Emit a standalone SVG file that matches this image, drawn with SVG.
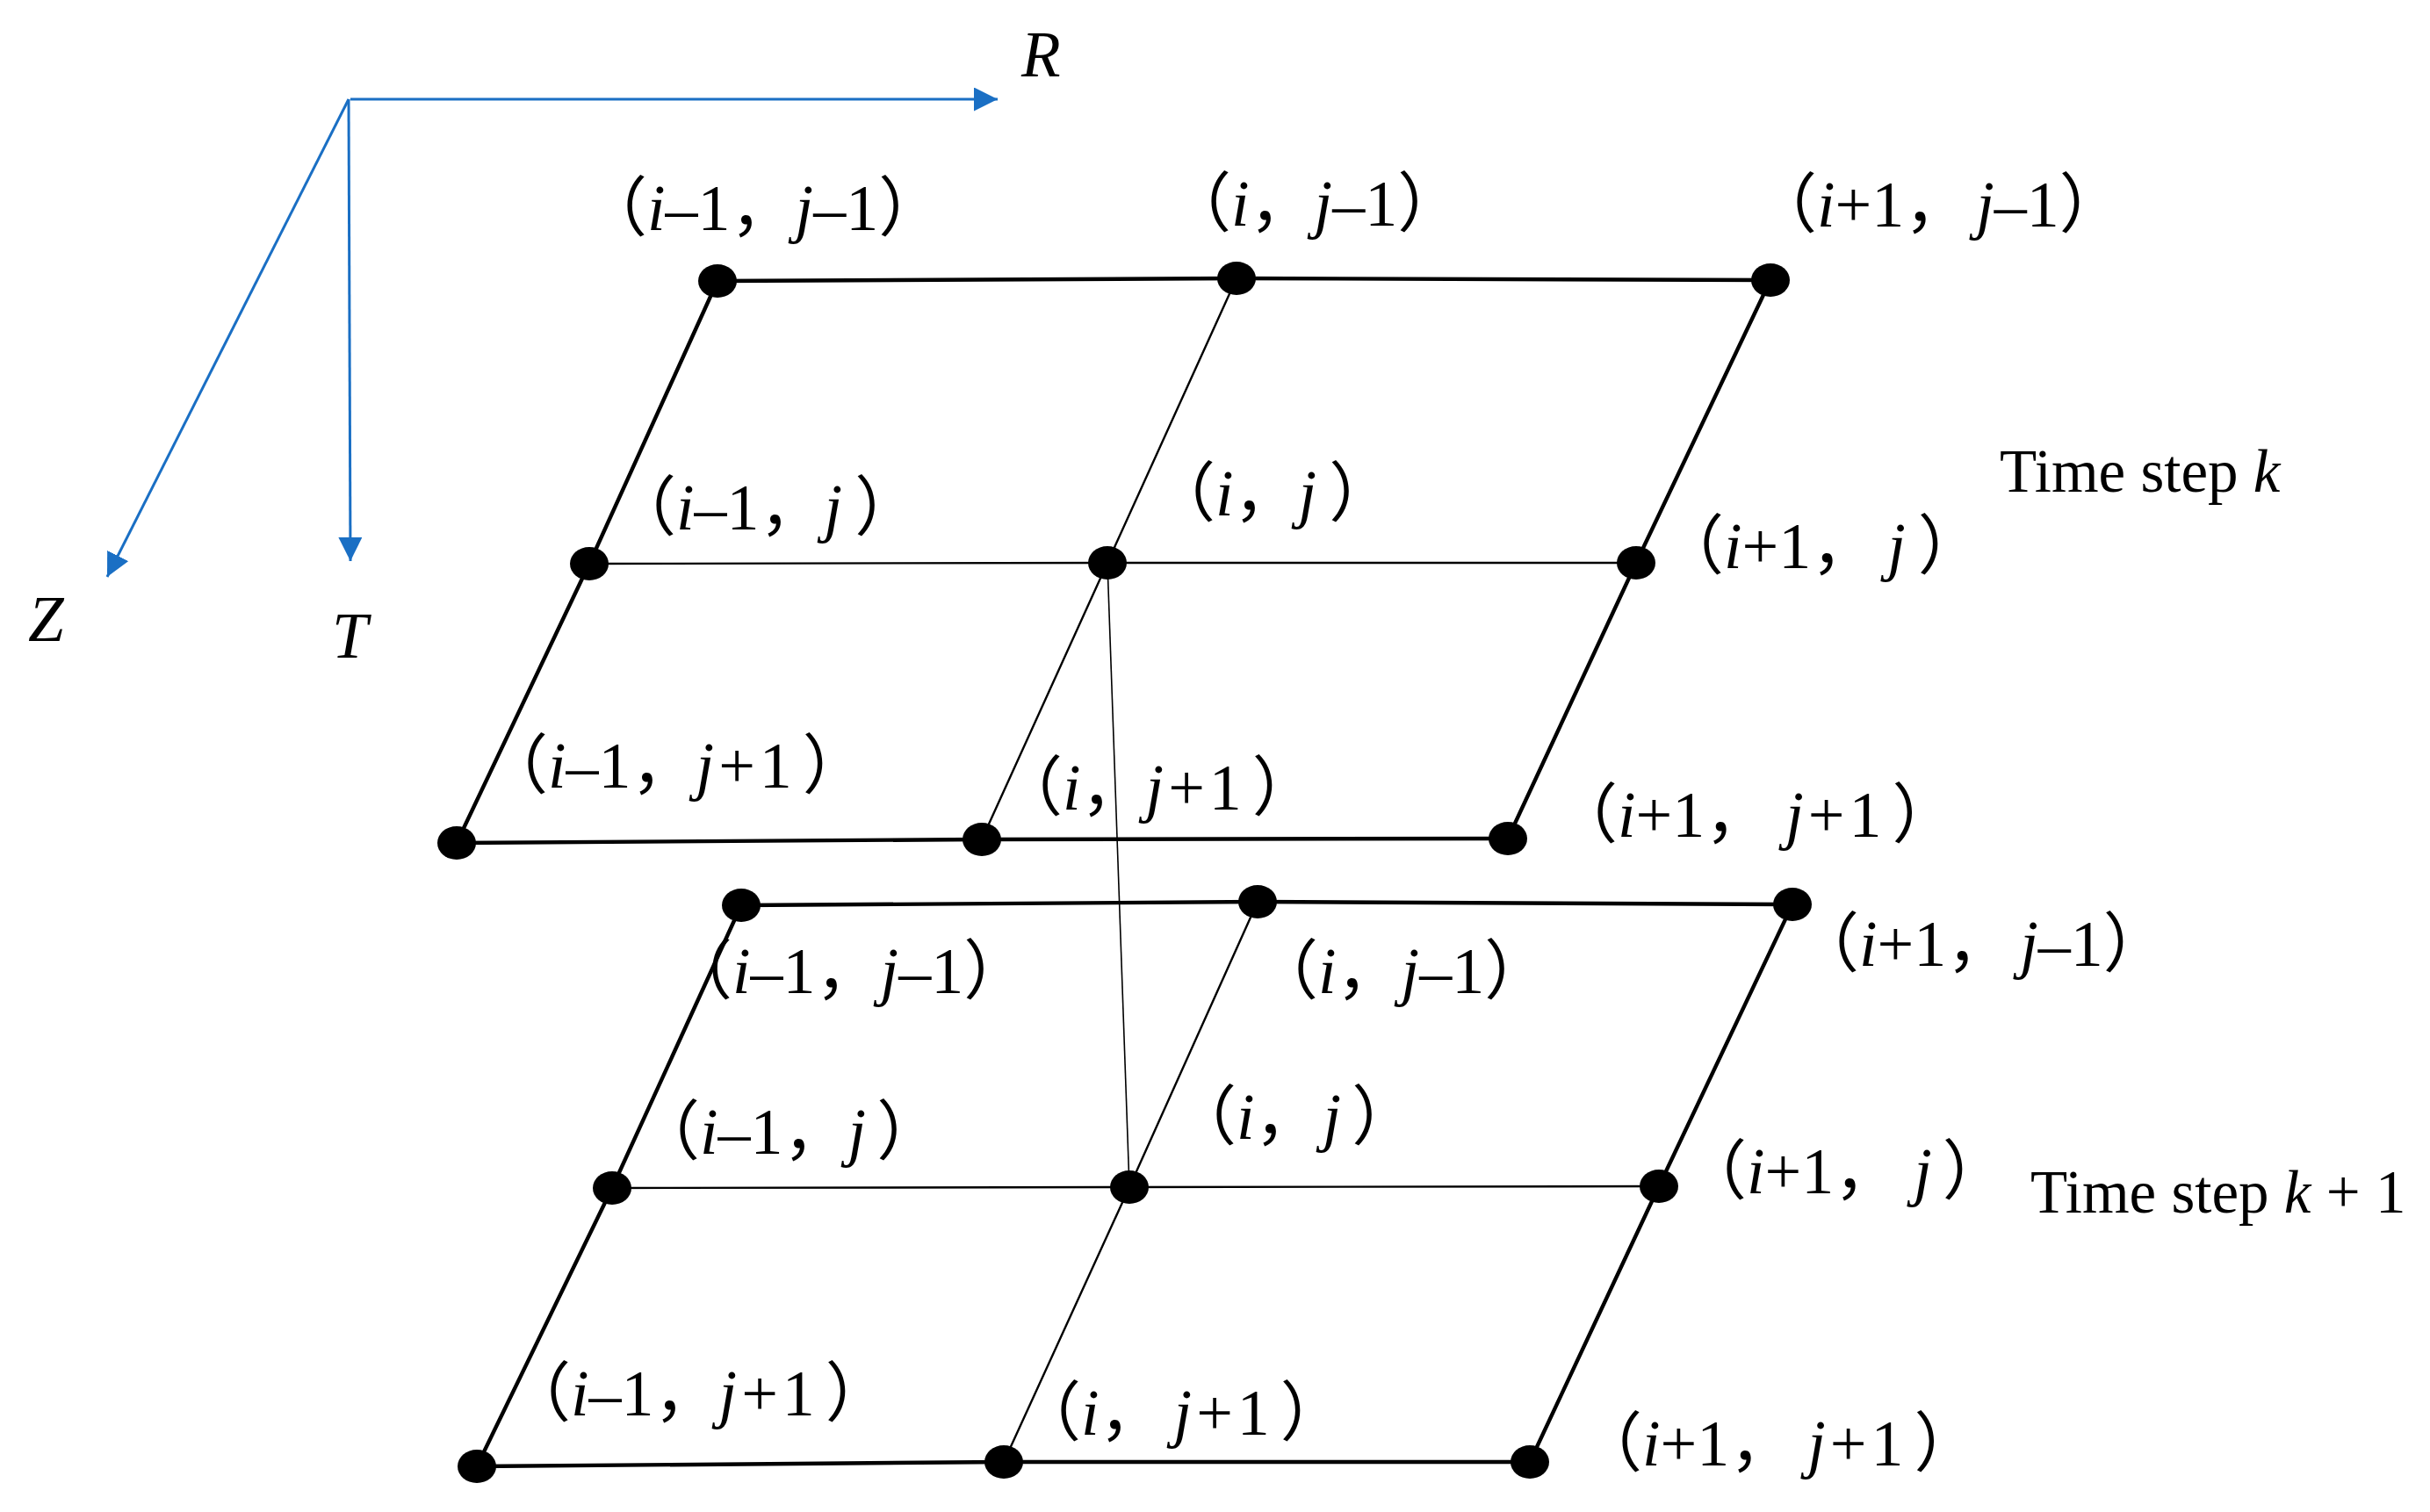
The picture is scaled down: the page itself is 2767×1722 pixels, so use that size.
<svg xmlns="http://www.w3.org/2000/svg" width="2767" height="1722" viewBox="0 0 2767 1722">
<style>
.ax{stroke:#1a6fc4;stroke-width:3;fill:none}
.thick{stroke:#000;stroke-width:4.4;fill:none}
.thin{stroke:#000;stroke-width:2.4;fill:none}
.vthin{stroke:#000;stroke-width:1.6;fill:none}
.node{fill:#000}
.lbl{font-family:"Liberation Serif","Noto Sans CJK SC",serif;font-size:74px;fill:#000}
.big{font-family:"Liberation Serif",serif;font-size:69px;fill:#000}
.axl{font-family:"Liberation Serif",serif;font-size:73px;font-style:italic;fill:#000}
.it{font-style:italic}
</style>
<defs>
<marker id="arr" viewBox="0 0 10 10" refX="10" refY="5" markerUnits="userSpaceOnUse" markerWidth="27" markerHeight="27" orient="auto">
<path d="M0,0 L10,5 L0,10 z" fill="#1a6fc4"/>
</marker>
</defs>
<rect width="2767" height="1722" fill="#fff"/>
<g id="axes">
<line class="ax" x1="399" y1="113" x2="1136" y2="113" marker-end="url(#arr)"/>
<line class="ax" x1="397" y1="113" x2="399" y2="639" marker-end="url(#arr)"/>
<line class="ax" x1="397" y1="113" x2="122" y2="657" marker-end="url(#arr)"/>
<text class="axl" x="1163" y="87">R</text>
<text class="axl" x="32" y="730">Z</text>
<text class="axl" x="378" y="749">T</text>
</g>
<g id="connectors">
<polyline class="thick" points="817,320 1408,317 2016,319"/>
<polyline class="thin" points="671,642 1261,641 1863,641"/>
<polyline class="thick" points="520,960 1118,956 1717,955"/>
<polyline class="thick" points="817,320 671,642 520,960"/>
<polyline class="thin" points="1408,317 1261,641 1118,956"/>
<polyline class="thick" points="2016,319 1863,641 1717,955"/>
<polyline class="thick" points="844,1031 1432,1027 2041,1030"/>
<polyline class="thin" points="697,1353 1286,1352 1889,1351"/>
<polyline class="thick" points="543,1670 1143,1665 1742,1665"/>
<polyline class="thick" points="844,1031 697,1353 543,1670"/>
<polyline class="thin" points="1432,1027 1286,1352 1143,1665"/>
<polyline class="thick" points="2041,1030 1889,1351 1742,1665"/>
<line class="vthin" x1="1261" y1="641" x2="1286" y2="1352"/>
</g>
<g id="k-im1-jm1"><ellipse class="node" cx="817" cy="320" rx="22" ry="19"/><text class="lbl" x="663" y="262">（<tspan class="it">i</tspan>–1，<tspan class="it">j</tspan>–1）</text></g>
<g id="k-i-jm1"><ellipse class="node" cx="1408" cy="317" rx="22" ry="19"/><text class="lbl" x="1328" y="257">（<tspan class="it">i</tspan>，<tspan class="it">j</tspan>–1）</text></g>
<g id="k-ip1-jm1"><ellipse class="node" cx="2016" cy="319" rx="22" ry="19"/><text class="lbl" x="1995" y="258">（<tspan class="it">i</tspan>+1，<tspan class="it" dx="8">j</tspan>–1）</text></g>
<g id="k-im1-j"><ellipse class="node" cx="671" cy="642" rx="22" ry="19"/><text class="lbl" x="696" y="603">（<tspan class="it">i</tspan>–1，<tspan class="it">j</tspan><tspan dx="14">）</tspan></text></g>
<g id="k-i-j"><ellipse class="node" cx="1261" cy="641" rx="22" ry="19"/><text class="lbl" x="1310" y="587">（<tspan class="it">i</tspan>，<tspan class="it">j</tspan><tspan dx="14">）</tspan></text></g>
<g id="k-ip1-j"><ellipse class="node" cx="1863" cy="641" rx="22" ry="19"/><text class="lbl" x="1889" y="647">（<tspan class="it">i</tspan>+1，<tspan class="it" dx="13">j</tspan><tspan dx="14">）</tspan></text></g>
<g id="k-im1-jp1"><ellipse class="node" cx="520" cy="960" rx="22" ry="19"/><text class="lbl" x="550" y="897">（<tspan class="it">i</tspan>–1，<tspan class="it">j</tspan><tspan dx="5">+</tspan><tspan dx="5">1</tspan><tspan dx="12">）</tspan></text></g>
<g id="k-i-jp1"><ellipse class="node" cx="1118" cy="956" rx="22" ry="19"/><text class="lbl" x="1136" y="922">（<tspan class="it">i</tspan>，<tspan class="it">j</tspan><tspan dx="5">+</tspan><tspan dx="5">1</tspan><tspan dx="12">）</tspan></text></g>
<g id="k-ip1-jp1"><ellipse class="node" cx="1717" cy="955" rx="22" ry="19"/><text class="lbl" x="1768" y="953">（<tspan class="it">i</tspan>+1，<tspan class="it" dx="18">j</tspan><tspan dx="5">+</tspan><tspan dx="5">1</tspan><tspan dx="12">）</tspan></text></g>
<g id="k1-im1-jm1"><ellipse class="node" cx="844" cy="1031" rx="22" ry="19"/><text class="lbl" x="760" y="1131">（<tspan class="it">i</tspan>–1，<tspan class="it">j</tspan>–1）</text></g>
<g id="k1-i-jm1"><ellipse class="node" cx="1432" cy="1027" rx="22" ry="19"/><text class="lbl" x="1427" y="1131">（<tspan class="it">i</tspan>，<tspan class="it">j</tspan>–1）</text></g>
<g id="k1-ip1-jm1"><ellipse class="node" cx="2041" cy="1030" rx="22" ry="19"/><text class="lbl" x="2043" y="1100">（<tspan class="it">i</tspan>+1，<tspan class="it" dx="10">j</tspan>–1）</text></g>
<g id="k1-im1-j"><ellipse class="node" cx="697" cy="1353" rx="22" ry="19"/><text class="lbl" x="723" y="1314">（<tspan class="it">i</tspan>–1，<tspan class="it">j</tspan><tspan dx="12">）</tspan></text></g>
<g id="k1-i-j"><ellipse class="node" cx="1286" cy="1352" rx="22" ry="19"/><text class="lbl" x="1334" y="1297">（<tspan class="it">i</tspan>，<tspan class="it" dx="4">j</tspan><tspan dx="12">）</tspan></text></g>
<g id="k1-ip1-j"><ellipse class="node" cx="1889" cy="1351" rx="22" ry="19"/><text class="lbl" x="1915" y="1359">（<tspan class="it">i</tspan>+1，<tspan class="it" dx="17">j</tspan><tspan dx="12">）</tspan></text></g>
<g id="k1-im1-jp1"><ellipse class="node" cx="543" cy="1670" rx="22" ry="19"/><text class="lbl" x="576" y="1612">（<tspan class="it">i</tspan>–1，<tspan class="it">j</tspan><tspan dx="5">+</tspan><tspan dx="5">1</tspan><tspan dx="12">）</tspan></text></g>
<g id="k1-i-jp1"><ellipse class="node" cx="1143" cy="1665" rx="22" ry="19"/><text class="lbl" x="1157" y="1634">（<tspan class="it">i</tspan>，<tspan class="it" dx="11">j</tspan><tspan dx="5">+</tspan><tspan dx="5">1</tspan><tspan dx="12">）</tspan></text></g>
<g id="k1-ip1-jp1"><ellipse class="node" cx="1742" cy="1665" rx="22" ry="19"/><text class="lbl" x="1796" y="1669">（<tspan class="it">i</tspan>+1，<tspan class="it" dx="15">j</tspan><tspan dx="5">+</tspan><tspan dx="5">1</tspan><tspan dx="12">）</tspan></text></g>
<g id="step-k"><text class="big" x="2277" y="560">Time step <tspan class="it">k</tspan></text></g>
<g id="step-k1"><text class="big" x="2312" y="1381">Time step <tspan class="it">k</tspan> + 1</text></g>
</svg>
